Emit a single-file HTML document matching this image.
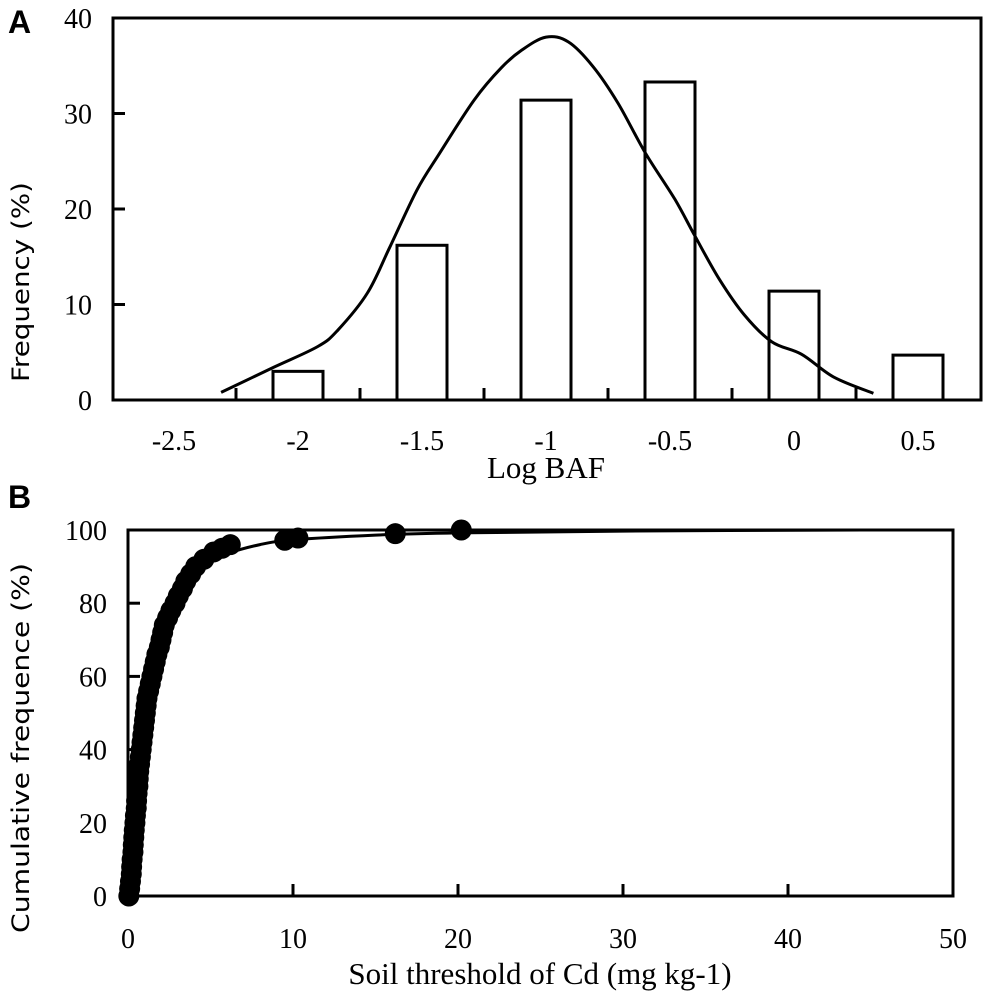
<!DOCTYPE html>
<html><head><meta charset="utf-8"><style>
html,body{margin:0;padding:0;background:#fff;width:986px;height:996px;overflow:hidden}
svg{display:block}
.tk{font-family:"Liberation Serif",serif;font-size:28px;fill:#000}
.ttl{font-family:"DejaVu Sans","Liberation Sans",sans-serif;font-size:24px;fill:#000}
</style></head><body>
<svg id="chart" width="986" height="996" xmlns="http://www.w3.org/2000/svg">
<text x="8" y="33" style="font-family:'Liberation Sans',sans-serif;font-weight:bold;font-size:32px">A</text>
<text x="8" y="508" style="font-family:'Liberation Sans',sans-serif;font-weight:bold;font-size:32px">B</text>
<g id="pa"></g>
<g id="pb"></g>
</svg>
<script>
// Panel A data
const aCategories = [-2.5, -2, -1.5, -1, -0.5, 0, 0.5];
const aFreq = [0, 3.0, 16.2, 31.4, 33.3, 11.4, 4.7];
const aYTicks = [0, 10, 20, 30, 40];
const aCurveX = [-2.31,-2.1,-1.92,-1.84,-1.72,-1.63,-1.52,-1.43,-1.29,-1.18,-1.1,-1.0,-0.91,-0.81,-0.71,-0.6,-0.48,-0.4,-0.3,-0.2,-0.09,0.03,0.16,0.32];
const aCurveY = [0.8,3.4,5.6,7.3,11.2,16.0,22.0,25.8,31.4,34.8,36.6,38.0,37.5,34.9,31.1,25.9,21.0,17.2,12.6,8.9,6.1,4.8,2.4,0.7];
// Panel B data
const bX = [0.05,0.1,0.15,0.2,0.22,0.25,0.3,0.32,0.35,0.38,0.42,0.45,0.5,0.52,0.55,0.6,0.62,0.65,0.7,0.75,0.8,0.85,0.9,0.95,1.0,1.05,1.1,1.15,1.25,1.35,1.45,1.55,1.65,1.75,1.9,2.0,2.1,2.2,2.4,2.6,2.85,3.05,3.3,3.5,3.8,4.1,4.6,5.2,5.7,6.2,9.5,10.3,16.2,20.2];
const bY = [0,2,4,6,8,10,12,14,16,18,20,22,24,26,28,30,32,34,36,38,40,42,44,46,48,50,52,54,56,58,60,62,64,66,68,70,72,74,76,78,80,82,84,86,88,90,92,94,95,96,97.2,97.8,99,100];
const bFitX = [0,0.3,0.6,1,1.5,2,3,4,5,6,8,10,15,20,30,44.5];
const bFitY = [0,10,30,48,62,71,81,87,91,93.5,96,97.3,98.6,99.2,99.7,100];
const bXTicks = [0,10,20,30,40,50];
const bYTicks = [0,20,40,60,80,100];

const NS="http://www.w3.org/2000/svg";
function mk(parent,tag,attrs,text){const e=document.createElementNS(NS,tag);for(const k in attrs)e.setAttribute(k,attrs[k]);if(text!==undefined)e.textContent=text;parent.appendChild(e);return e;}
function smooth(pts){
  let d='M'+pts[0][0].toFixed(1)+' '+pts[0][1].toFixed(1);
  for(let i=0;i<pts.length-1;i++){
    const p0=pts[Math.max(0,i-1)],p1=pts[i],p2=pts[i+1],p3=pts[Math.min(pts.length-1,i+2)];
    const c1=[p1[0]+(p2[0]-p0[0])/6,p1[1]+(p2[1]-p0[1])/6];
    const c2=[p2[0]-(p3[0]-p1[0])/6,p2[1]-(p3[1]-p1[1])/6];
    d+='C'+c1[0].toFixed(1)+' '+c1[1].toFixed(1)+' '+c2[0].toFixed(1)+' '+c2[1].toFixed(1)+' '+p2[0].toFixed(1)+' '+p2[1].toFixed(1);
  }
  return d;
}

// ---- Panel A ----
const pa=document.getElementById('pa');
const aL=113,aR=981,aT=18,aB=400;
const axY=v=>aB-v*(aB-aT)/40;
const axX=v=>174+(v+2.5)*248;
let e;
aFreq.forEach((v,i)=>{ if(v<=0) return;
  const cx=axX(aCategories[i]);
  e=mk(pa,'rect',{x:cx-25,y:axY(v),width:50,height:aB-axY(v),fill:'#fff',stroke:'#000','stroke-width':3});
  
  
});
e=mk(pa,'path',{d:smooth(aCurveX.map((x,i)=>[axX(x),axY(aCurveY[i])])),fill:'none',stroke:'#000','stroke-width':3,'stroke-linejoin':'round'});


e=mk(pa,'rect',{x:aL,y:aT,width:aR-aL,height:aB-aT,fill:'none',stroke:'#000','stroke-width':3});


aYTicks.forEach(v=>{
  mk(pa,'line',{x1:aL,x2:aL+12,y1:axY(v),y2:axY(v),stroke:'#000','stroke-width':3});
  e=mk(pa,'text',{x:92,y:axY(v)+10,'text-anchor':'end',class:'tk'},String(v));
  
  
});
aCategories.forEach((c,i)=>{
  const cx=axX(c);
  if(i>0) mk(pa,'line',{x1:cx-62,x2:cx-62,y1:aB,y2:aB-12,stroke:'#000','stroke-width':3});
  e=mk(pa,'text',{x:cx,y:450,'text-anchor':'middle',class:'tk'},String(c));
  
  
});
e=mk(pa,'text',{x:546,y:478,'text-anchor':'middle',class:'tk',style:'font-size:31px'},'Log BAF');


e=mk(pa,'text',{x:0,y:0,'text-anchor':'middle',class:'ttl',transform:'translate(29,282) rotate(-90)',textLength:200,lengthAdjust:'spacingAndGlyphs'},'Frequency (%)');



// ---- Panel B ----
const pb=document.getElementById('pb');
const bL=128,bR=953,bT=530,bB=896;
const bxs=v=>bL+v*(bR-bL)/50;
const bys=v=>bB-v*(bB-bT)/100;
e=mk(pb,'rect',{x:bL,y:bT,width:bR-bL,height:bB-bT,fill:'none',stroke:'#000','stroke-width':3});


bYTicks.forEach(v=>{
  mk(pb,'line',{x1:bL,x2:bL+12,y1:bys(v),y2:bys(v),stroke:'#000','stroke-width':3});
  e=mk(pb,'text',{x:107,y:bys(v)+10,'text-anchor':'end',class:'tk'},String(v));
  
  
});
bXTicks.forEach(v=>{
  mk(pb,'line',{x1:bxs(v),x2:bxs(v),y1:bB,y2:bB-12,stroke:'#000','stroke-width':3});
  e=mk(pb,'text',{x:bxs(v),y:948,'text-anchor':'middle',class:'tk'},String(v));
  
  
});
e=mk(pb,'path',{d:smooth(bFitX.map((x,i)=>[bxs(x),bys(bFitY[i])])),fill:'none',stroke:'#000','stroke-width':3,'stroke-linejoin':'round'});


bX.forEach((x,i)=>{
  e=mk(pb,'circle',{cx:bxs(x),cy:bys(bY[i]),r:10.5,fill:'#000'});
  
  
});
e=mk(pb,'text',{x:540,y:984,'text-anchor':'middle',class:'tk',style:'font-size:31px'},'Soil threshold of Cd (mg kg-1)');


e=mk(pb,'text',{x:0,y:0,'text-anchor':'middle',class:'ttl',transform:'translate(29,748) rotate(-90)',textLength:370,lengthAdjust:'spacingAndGlyphs'},'Cumulative frequence (%)');


</script>
</body></html>
